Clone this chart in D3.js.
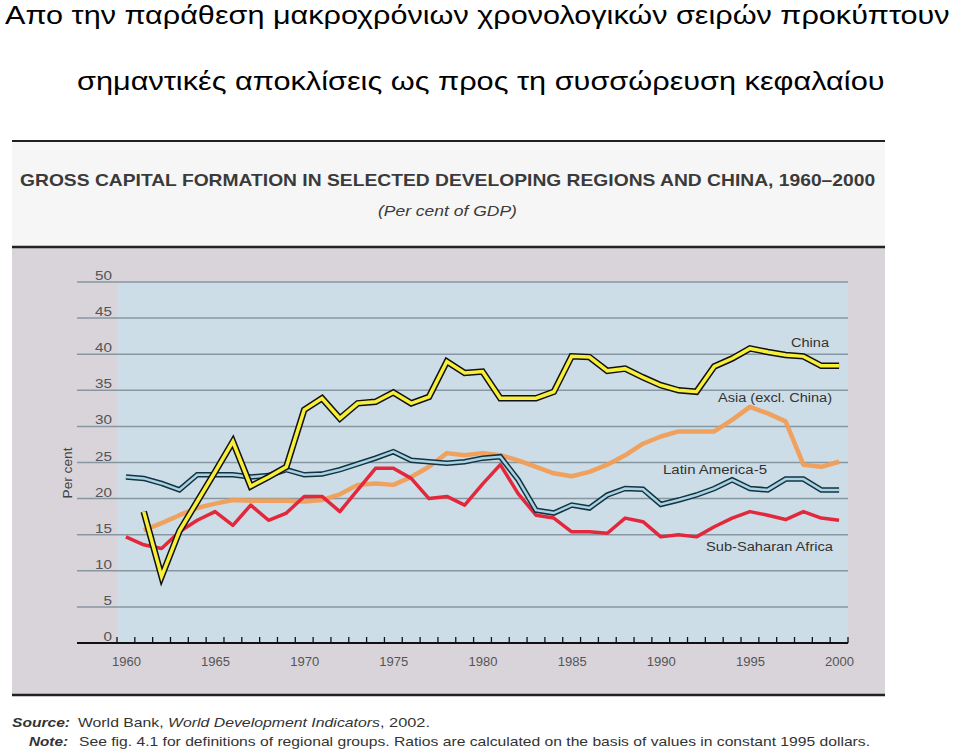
<!DOCTYPE html>
<html>
<head>
<meta charset="utf-8">
<script src="https://cdn.jsdelivr.net/npm/d3@7"></script>
<style>
  html, body { margin: 0; padding: 0; background: #ffffff; }
  svg { display: block; font-family: "Liberation Sans", Arial, sans-serif; }
</style>
</head>
<body>
<svg id="chart" width="960" height="753"></svg>
<script>
// ---------------- DATA ----------------
const years = d3.range(1960, 2001);
const yTicks = [0, 5, 10, 15, 20, 25, 30, 35, 40, 45, 50];
const xLabelYears = [1960, 1965, 1970, 1975, 1980, 1985, 1990, 1995, 2000];

// China (from 1961)
const chinaYears = d3.range(1961, 2001);
const chinaValues = [18.2, 9.2, 15.5, 19.6, 23.7, 27.9, 21.7, 23.0, 24.4, 32.3,
                     33.9, 31.1, 33.2, 33.4, 34.7, 33.2, 34.1, 39.0, 37.4, 37.6,
                     33.9, 33.9, 33.9, 34.8, 39.7, 39.6, 37.7, 38.0, 36.8, 35.7,
                     35.0, 34.8, 38.3, 39.4, 40.8, 40.3, 39.9, 39.7, 38.4, 38.4];

// Asia (excl. China) (from 1961)
const asiaYears = d3.range(1961, 2001);
const asiaValues = [15.6, 16.6, 17.7, 18.7, 19.3, 19.8, 19.7, 19.7, 19.7, 19.6,
                    19.8, 20.6, 21.9, 22.1, 21.9, 23.0, 24.4, 26.3, 26.0, 26.3,
                    26.0, 25.3, 24.4, 23.5, 23.1, 23.7, 24.7, 26.0, 27.6, 28.6,
                    29.3, 29.3, 29.3, 30.9, 32.7, 31.8, 30.7, 24.7, 24.4, 25.1];

// Latin America-5 (from 1960)
const latamYears = d3.range(1960, 2001);
const latamValues = [23.0, 22.8, 22.1, 21.2, 23.3, 23.3, 23.3, 23.0, 23.2, 24.0,
                     23.3, 23.4, 24.0, 24.8, 25.6, 26.5, 25.3, 25.1, 24.9, 25.1,
                     25.6, 25.8, 22.6, 18.4, 18.0, 19.1, 18.7, 20.5, 21.4, 21.3,
                     19.2, 19.8, 20.5, 21.4, 22.6, 21.4, 21.2, 22.7, 22.7, 21.2, 21.2];

// Sub-Saharan Africa (from 1960)
const ssaYears = d3.range(1960, 2001);
const ssaValues = [14.7, 13.6, 13.1, 15.4, 17.0, 18.2, 16.3, 19.1, 17.0, 18.0,
                   20.3, 20.3, 18.2, 21.2, 24.2, 24.2, 22.8, 20.0, 20.3, 19.1,
                   22.0, 24.7, 20.7, 17.7, 17.3, 15.4, 15.4, 15.2, 17.3, 16.8,
                   14.7, 15.0, 14.7, 16.1, 17.3, 18.2, 17.7, 17.1, 18.2, 17.3, 17.0];

const seriesLabels = ["China", "Asia (excl. China)", "Latin America-5", "Sub-Saharan Africa"];

// ---------------- DRAW ----------------
const svg = d3.select("#chart");

// helper: fit text horizontally to a target width by scaling x only
function fitText(sel, x0, y0, target) {
  const w = sel.node().getComputedTextLength();
  const s = target / w;
  sel.attr("x", 0).attr("y", 0)
     .attr("transform", `translate(${x0},${y0}) scale(${s},1)`);
}

// Greek header
const g1 = svg.append("text").attr("font-size", 26.5).attr("fill", "#000")
  .text("Απο την παράθεση μακροχρόνιων χρονολογικών σειρών προκύπτουν");
fitText(g1, 5, 24, 945);
const g2 = svg.append("text").attr("font-size", 26.5).attr("fill", "#000")
  .text("σημαντικές αποκλίσεις ως προς τη συσσώρευση κεφαλαίου");
fitText(g2, 77, 90, 808);

// title block
svg.append("rect").attr("x", 12).attr("y", 142).attr("width", 873).attr("height", 104).attr("fill", "#f6f6f6");
svg.append("line").attr("x1", 12).attr("x2", 885).attr("y1", 141).attr("y2", 141)
  .attr("stroke", "#222").attr("stroke-width", 2);
const t1 = svg.append("text").attr("font-size", 16.5).attr("font-weight", "bold").attr("fill", "#3a3a3a")
  .text("GROSS CAPITAL FORMATION IN SELECTED DEVELOPING REGIONS AND CHINA, 1960\u20132000");
fitText(t1, 20, 186, 856);
const t2 = svg.append("text").attr("font-size", 14).attr("font-style", "italic").attr("fill", "#3a3a3a")
  .text("(Per cent of GDP)");
fitText(t2, 378, 216, 139);

// panel
svg.append("rect").attr("x", 12).attr("y", 247).attr("width", 873).attr("height", 448).attr("fill", "#d8d4da");
svg.append("line").attr("x1", 12).attr("x2", 885).attr("y1", 247).attr("y2", 247)
  .attr("stroke", "#222").attr("stroke-width", 2.5);
svg.append("line").attr("x1", 12).attr("x2", 885).attr("y1", 695).attr("y2", 695)
  .attr("stroke", "#222").attr("stroke-width", 2.5);

// scales
const x = d3.scaleLinear().domain([1959.5, 2000.5]).range([117, 848]);
const y = d3.scaleLinear().domain([0, 50]).range([643, 282]);

// plot background
svg.append("rect").attr("x", x(1959.5)).attr("y", y(50))
  .attr("width", x(2000.5) - x(1959.5)).attr("height", y(0) - y(50))
  .attr("fill", "#ccdde7");

// gridlines
svg.append("g").selectAll("line").data(yTicks.filter(d => d > 0)).join("line")
  .attr("x1", 77).attr("x2", x(2000.5))
  .attr("y1", d => y(d)).attr("y2", d => y(d))
  .attr("stroke", "#8797a2").attr("stroke-width", 1.5);

// y labels
svg.append("g").selectAll("text").data(yTicks).join("text")
  .attr("x", 112).attr("y", d => y(d) - 2)
  .attr("text-anchor", "end").attr("font-size", 12.5).attr("fill", "#555")
  .attr("textLength", d => d < 10 ? 8.5 : 17).attr("lengthAdjust", "spacingAndGlyphs")
  .text(d => d);

// y-axis title
const yt = svg.append("text").attr("font-size", 13.5).attr("fill", "#444").text("Per cent");
{
  const w = yt.node().getComputedTextLength();
  const s = 51 / w;
  yt.attr("text-anchor", "middle")
    .attr("transform", `translate(72,473) rotate(-90) scale(${s},1)`);
}

// x axis line + ticks
svg.append("line").attr("x1", 77).attr("x2", x(2000.5)).attr("y1", y(0)).attr("y2", y(0))
  .attr("stroke", "#111").attr("stroke-width", 2);
svg.append("g").selectAll("line").data(d3.range(1960, 2002)).join("line")
  .attr("x1", d => x(d - 0.5)).attr("x2", d => x(d - 0.5))
  .attr("y1", y(0)).attr("y2", y(0) - 6)
  .attr("stroke", "#111").attr("stroke-width", 1.3);

// x labels
svg.append("g").selectAll("text").data(xLabelYears).join("text")
  .attr("x", d => x(d) - 14).attr("y", 666)
  .attr("font-size", 12).attr("fill", "#555")
  .attr("textLength", 29).attr("lengthAdjust", "spacingAndGlyphs")
  .text(d => d);

const line = d3.line().x(d => x(d[0])).y(d => y(d[1]));
const zipData = (ys, vs) => ys.map((yr, i) => [yr, vs[i]]);

const plot = svg.append("g");
// Asia
plot.append("path").datum(zipData(asiaYears, asiaValues))
  .attr("d", line).attr("fill", "none").attr("stroke", "#f09d55").attr("stroke-width", 4.5)
  .attr("stroke-linejoin", "round").attr("opacity", 0.95);
// Sub-Saharan Africa
plot.append("path").datum(zipData(ssaYears, ssaValues))
  .attr("d", line).attr("fill", "none").attr("stroke", "#e4283c").attr("stroke-width", 3.5)
  .attr("stroke-linejoin", "round");
// Latin America-5 (double line)
plot.append("path").datum(zipData(latamYears, latamValues))
  .attr("d", line).attr("fill", "none").attr("stroke", "#15333f").attr("stroke-width", 5.5)
  .attr("stroke-linejoin", "miter");
plot.append("path").datum(zipData(latamYears, latamValues))
  .attr("d", line).attr("fill", "none").attr("stroke", "#a9d4e6").attr("stroke-width", 2.5)
  .attr("stroke-linejoin", "miter");
// China (yellow with black border)
plot.append("path").datum(zipData(chinaYears, chinaValues))
  .attr("d", line).attr("fill", "none").attr("stroke", "#111").attr("stroke-width", 6.5)
  .attr("stroke-linejoin", "miter");
plot.append("path").datum(zipData(chinaYears, chinaValues))
  .attr("d", line).attr("fill", "none").attr("stroke", "#f7ef3a").attr("stroke-width", 3.5)
  .attr("stroke-linejoin", "miter");

// series labels
const lab = [
  {t: seriesLabels[0], x: 791, y: 347, w: 38},
  {t: seriesLabels[1], x: 718, y: 402, w: 114},
  {t: seriesLabels[2], x: 663, y: 474, w: 104},
  {t: seriesLabels[3], x: 706, y: 551, w: 127}
];
svg.append("g").selectAll("text").data(lab).join("text")
  .attr("x", d => d.x).attr("y", d => d.y)
  .attr("font-size", 12.5).attr("fill", "#333")
  .attr("textLength", d => d.w).attr("lengthAdjust", "spacingAndGlyphs")
  .text(d => d.t);

// source & note
const src = svg.append("text").attr("x", 12).attr("y", 727).attr("font-size", 13).attr("fill", "#333");
src.append("tspan").attr("font-style", "italic").attr("font-weight", "bold").attr("textLength", 58).attr("lengthAdjust", "spacingAndGlyphs").text("Source:");
src.append("tspan").attr("x", 78).attr("textLength", 90).attr("lengthAdjust", "spacingAndGlyphs").text("World Bank, ");
src.append("tspan").attr("font-style", "italic").attr("textLength", 212).attr("lengthAdjust", "spacingAndGlyphs").text("World Development Indicators");
src.append("tspan").attr("textLength", 50).attr("lengthAdjust", "spacingAndGlyphs").text(", 2002.");

const note = svg.append("text").attr("x", 29).attr("y", 746).attr("font-size", 13).attr("fill", "#333");
note.append("tspan").attr("font-style", "italic").attr("font-weight", "bold").attr("textLength", 39).attr("lengthAdjust", "spacingAndGlyphs").text("Note:");
note.append("tspan").attr("x", 79).attr("textLength", 791).attr("lengthAdjust", "spacingAndGlyphs")
  .text("See fig. 4.1 for definitions of regional groups. Ratios are calculated on the basis of values in constant 1995 dollars.");
</script>
</body>
</html>
